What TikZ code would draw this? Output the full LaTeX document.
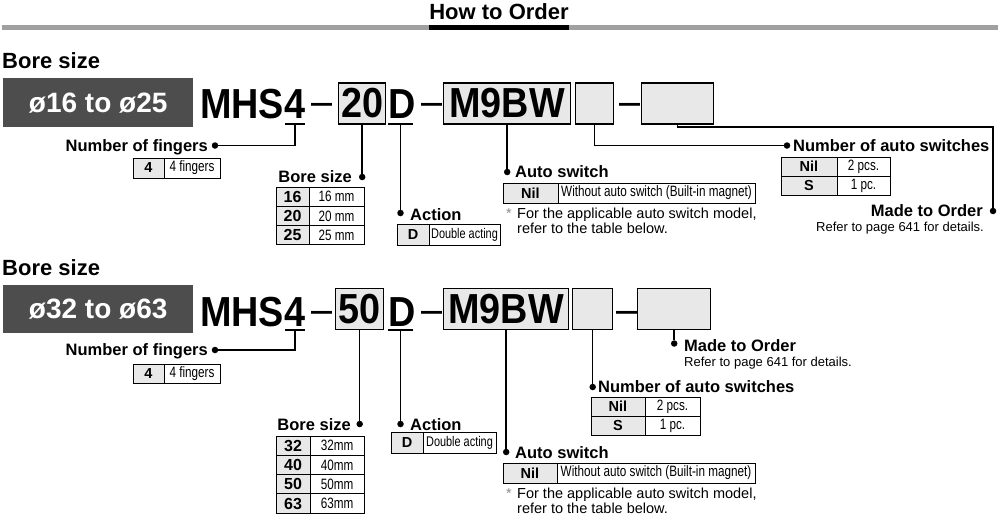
\documentclass[tikz,border=0pt]{standalone}
\usepackage{fontspec}
\setmainfont{Liberation Sans}
\newfontfamily\codefont[FakeStretch=0.9]{Liberation Sans}
\newfontfamily\narrowfont[FakeStretch=0.78]{Liberation Sans}
\usetikzlibrary{positioning}
\definecolor{bandgray}{RGB}{77,77,77}
\definecolor{boxgray}{RGB}{232,232,232}
\definecolor{rulegray}{RGB}{160,160,160}
\definecolor{markgray}{RGB}{140,140,140}
\tikzset{
  head/.style={font=\bfseries\fontsize{22}{24}\selectfont, inner sep=0pt},
  band/.style={fill=bandgray, text=white, anchor=north west, inner sep=0pt,
               minimum width=190pt, font=\bfseries\fontsize{28}{30}\selectfont},
  code/.style={font=\codefont\bfseries\fontsize{42}{44}\selectfont, inner sep=0pt, anchor=base west},
  codedash/.style={font=\codefont\fontsize{42}{44}\selectfont, inner sep=0pt, anchor=base west},
  codebox/.style={draw, fill=boxgray, line width=1.4pt, inner sep=0pt, minimum height=41pt,
                  anchor=west, font=\codefont\bfseries\fontsize{42}{44}\selectfont},
  uline/.style={line width=1.5pt},
  link/.style={line width=1.5pt},
  tipdot/.style={circle, fill, inner sep=0pt, minimum size=6.5pt},
  lbl/.style={font=\bfseries\fontsize{16.5}{18}\selectfont, inner sep=0pt},
  small/.style={font=\fontsize{13}{15}\selectfont, inner sep=0pt},
  notetext/.style={font=\fontsize{14.5}{16}\selectfont, inner sep=0pt, anchor=base west},
  keycell/.style={draw, fill=boxgray, line width=1pt, inner sep=0pt, outer sep=0pt,
                  minimum height=20pt, font=\bfseries\fontsize{14.5}{16}\selectfont},
  valcell/.style={draw, fill=white, line width=1pt, inner sep=0pt, outer sep=0pt,
                  minimum height=20pt, font=\narrowfont\fontsize{15}{17}\selectfont},
}

\begin{document}
\begin{tikzpicture}[x=1pt, y=-1pt]
  \useasboundingbox (0,0) rectangle (1000,520);

  % heading
  \node[head, anchor=base] (hdr) at (499,19) {How to Order};
  \draw[rulegray, line width=5pt] (2,27.5) -- (998,27.5);
  \draw[line width=5pt] (hdr.west |- 0,27.5) -- (hdr.east |- 0,27.5);

  % ---------- first row: 16 to 25 ----------
  \node[head, anchor=base west] (boreA) at (2,68) {Bore size};
  \node[band, minimum height=49pt] (bandA) at (3,78) {ø16 to ø25};

  \node[code] (mhsA) at (200,118) {MHS4};
  \node[codedash] (dashA1) at (311,115) {–};
  \node[codebox, minimum width=47pt] (bxA) at (338,103.5) {20};
  \node[code] (dA) at (388,118) {D};
  \node[codedash] (dashA2) at (421,115) {–};
  \node[codebox, minimum width=127pt] (swA) at (443,103.5) {M9BW};
  \node[codebox, minimum width=38pt] (nA) at (575,103.5) {};
  \node[codedash] (dashA3) at (619,115) {–};
  \node[codebox, minimum width=72pt] (mtoA) at (641,103.5) {};

  \coordinate (u4A) at (295,124);
  \coordinate (uDA) at (400.5,124);
  \draw[uline] ([xshift=-10pt]u4A) -- ([xshift=10pt]u4A);
  \draw[uline] ([xshift=-12.5pt]uDA) -- ([xshift=12.5pt]uDA);

  % number of fingers
  \node[tipdot] (fdotA) at (215,145.5) {};
  \draw[link] (u4A) |- (fdotA);
  \node[lbl, anchor=base east] (flA) at (208,151) {Number of fingers};
  \node[keycell, anchor=north west, minimum width=31pt] (fkA) at (133,158) {4};
  \node[valcell, minimum width=56pt, right=0pt of fkA] (fvA) {4 fingers};

  % bore size
  \node[tipdot] (bdotA) at (bxA.south |- 0,177) {};
  \draw[link] (bxA.south) -- (bdotA);
  \node[lbl, anchor=base east] (blA) at (352,182) {Bore size};
  \node[keycell, anchor=north west, minimum width=33pt, minimum height=19.3pt,
        font=\bfseries\fontsize{16}{18}\selectfont] (bk1A) at (276,187) {16};
  \node[valcell, minimum width=55pt, minimum height=19.3pt, right=0pt of bk1A] (bv1A) {16 mm};
  \node[keycell, minimum width=33pt, minimum height=19.3pt,
        font=\bfseries\fontsize{16}{18}\selectfont, below=0pt of bk1A] (bk2A) {20};
  \node[valcell, minimum width=55pt, minimum height=19.3pt, right=0pt of bk2A] (bv2A) {20 mm};
  \node[keycell, minimum width=33pt, minimum height=19.3pt,
        font=\bfseries\fontsize{16}{18}\selectfont, below=0pt of bk2A] (bk3A) {25};
  \node[valcell, minimum width=55pt, minimum height=19.3pt, right=0pt of bk3A] (bv3A) {25 mm};

  % action
  \node[tipdot] (adotA) at (uDA |- 0,213) {};
  \draw[link] (uDA) -- (adotA);
  \node[lbl, anchor=base west] (alA) at (410,220.5) {Action};
  \node[keycell, anchor=north west, minimum width=32pt, minimum height=21pt] (akA) at (397,224) {D};
  \node[valcell, minimum width=71pt, minimum height=21pt, right=0pt of akA,
        font=\narrowfont\fontsize{14}{16}\selectfont] (avA) {Double acting};

  % auto switch
  \node[tipdot] (sdotA) at (swA.south |- 0,172) {};
  \draw[link] (swA.south) -- (sdotA);
  \node[lbl, anchor=base west] (slA) at (515,177) {Auto switch};
  \node[keycell, anchor=north west, minimum width=55pt] (skA) at (503,183) {Nil};
  \node[valcell, minimum width=197pt, right=0pt of skA] (svA) {Without auto switch (Built-in magnet)};
  \node[notetext, text=markgray] (astA) at (506,218.5) {*};
  \node[notetext] (n1A) at (517,218.5) {For the applicable auto switch model,};
  \node[notetext] (n2A) at (517,233.5) {refer to the table below.};

  % number of auto switches
  \node[tipdot] (ndotA) at (787,145.5) {};
  \draw[link] (nA.south) |- (ndotA);
  \node[lbl, anchor=base west] (nlA) at (793,151) {Number of auto switches};
  \node[keycell, anchor=north west, minimum width=56pt, minimum height=19pt] (nk1A) at (781,157) {Nil};
  \node[valcell, minimum width=53pt, minimum height=19pt, right=0pt of nk1A] (nv1A) {2 pcs.};
  \node[keycell, minimum width=56pt, minimum height=19pt, below=0pt of nk1A] (nk2A) {S};
  \node[valcell, minimum width=53pt, minimum height=19pt, right=0pt of nk2A] (nv2A) {1 pc.};

  % made to order
  \node[tipdot] (mdotA) at (993,211) {};
  \coordinate (mturnA) at (993,127);
  \draw[link] (mtoA.south) |- (mturnA) -- (mdotA);
  \node[lbl, anchor=base east] (mlA) at (983,216.5) {Made to Order};
  \node[small, anchor=base east] (mrA) at (984,231) {Refer to page 641 for details.};

  % ---------- second row: 32 to 63 ----------
  \node[head, anchor=base west] (boreB) at (2,275) {Bore size};
  \node[band, minimum height=48pt] (bandB) at (3,285) {ø32 to ø63};

  \node[code] (mhsB) at (200,326) {MHS4};
  \node[codedash] (dashB1) at (311,323) {–};
  \node[codebox, minimum width=48pt] (bxB) at (335,309) {50};
  \node[code] (dB) at (388,326) {D};
  \node[codedash] (dashB2) at (421,323) {–};
  \node[codebox, minimum width=125pt] (swB) at (443,309) {M9BW};
  \node[codebox, minimum width=40pt] (nB) at (572,309) {};
  \node[codedash] (dashB3) at (616,323) {–};
  \node[codebox, minimum width=73pt] (mtoB) at (637,309) {};

  \coordinate (u4B) at (295,330);
  \coordinate (uDB) at (400.5,330);
  \draw[uline] ([xshift=-10pt]u4B) -- ([xshift=10pt]u4B);
  \draw[uline] ([xshift=-12.5pt]uDB) -- ([xshift=12.5pt]uDB);

  % number of fingers
  \node[tipdot] (fdotB) at (215,350) {};
  \draw[link] (u4B) |- (fdotB);
  \node[lbl, anchor=base east] (flB) at (208,355.5) {Number of fingers};
  \node[keycell, anchor=north west, minimum width=31pt, minimum height=19pt] (fkB) at (133,364.5) {4};
  \node[valcell, minimum width=56pt, minimum height=19pt, right=0pt of fkB] (fvB) {4 fingers};

  % bore size
  \node[tipdot] (bdotB) at (bxB.south |- 0,424) {};
  \draw[link] (bxB.south) -- (bdotB);
  \node[lbl, anchor=base east] (blB) at (351,430) {Bore size};
  \node[keycell, anchor=north west, minimum width=34pt, minimum height=19.3pt,
        font=\bfseries\fontsize{16}{18}\selectfont] (bk1B) at (276,436) {32};
  \node[valcell, minimum width=54pt, minimum height=19.3pt, right=0pt of bk1B] (bv1B) {32mm};
  \node[keycell, minimum width=34pt, minimum height=19.3pt,
        font=\bfseries\fontsize{16}{18}\selectfont, below=0pt of bk1B] (bk2B) {40};
  \node[valcell, minimum width=54pt, minimum height=19.3pt, right=0pt of bk2B] (bv2B) {40mm};
  \node[keycell, minimum width=34pt, minimum height=19.3pt,
        font=\bfseries\fontsize{16}{18}\selectfont, below=0pt of bk2B] (bk3B) {50};
  \node[valcell, minimum width=54pt, minimum height=19.3pt, right=0pt of bk3B] (bv3B) {50mm};
  \node[keycell, minimum width=34pt, minimum height=19.3pt,
        font=\bfseries\fontsize{16}{18}\selectfont, below=0pt of bk3B] (bk4B) {63};
  \node[valcell, minimum width=54pt, minimum height=19.3pt, right=0pt of bk4B] (bv4B) {63mm};

  % action
  \node[tipdot] (adotB) at (uDB |- 0,424) {};
  \draw[link] (uDB) -- (adotB);
  \node[lbl, anchor=base west] (alB) at (410,430) {Action};
  \node[keycell, anchor=north west, minimum width=32pt, minimum height=21pt] (akB) at (391,432) {D};
  \node[valcell, minimum width=73pt, minimum height=21pt, right=0pt of akB,
        font=\narrowfont\fontsize{14}{16}\selectfont] (avB) {Double acting};

  % auto switch
  \node[tipdot] (sdotB) at (swB.south |- 0,452) {};
  \draw[link] (swB.south) -- (sdotB);
  \node[lbl, anchor=base west] (slB) at (515,458) {Auto switch};
  \node[keycell, anchor=north west, minimum width=54pt] (skB) at (503,463) {Nil};
  \node[valcell, minimum width=198pt, right=0pt of skB] (svB) {Without auto switch (Built-in magnet)};
  \node[notetext, text=markgray] (astB) at (506,498.5) {*};
  \node[notetext] (n1B) at (517,498.5) {For the applicable auto switch model,};
  \node[notetext] (n2B) at (517,513.5) {refer to the table below.};

  % number of auto switches
  \node[tipdot] (ndotB) at (nB.south |- 0,387) {};
  \draw[link] (nB.south) -- (ndotB);
  \node[lbl, anchor=base west] (nlB) at (598,392.5) {Number of auto switches};
  \node[keycell, anchor=north west, minimum width=54pt, minimum height=19pt] (nk1B) at (591,397) {Nil};
  \node[valcell, minimum width=55pt, minimum height=19pt, right=0pt of nk1B] (nv1B) {2 pcs.};
  \node[keycell, minimum width=54pt, minimum height=19pt, below=0pt of nk1B] (nk2B) {S};
  \node[valcell, minimum width=55pt, minimum height=19pt, right=0pt of nk2B] (nv2B) {1 pc.};

  % made to order
  \node[tipdot] (mdotB) at (mtoB.south |- 0,343.5) {};
  \draw[link] (mtoB.south) -- (mdotB);
  \node[lbl, anchor=base west] (mlB) at (684,351.5) {Made to Order};
  \node[small, anchor=base west] (mrB) at (684,366.5) {Refer to page 641 for details.};
\end{tikzpicture}
\end{document}
